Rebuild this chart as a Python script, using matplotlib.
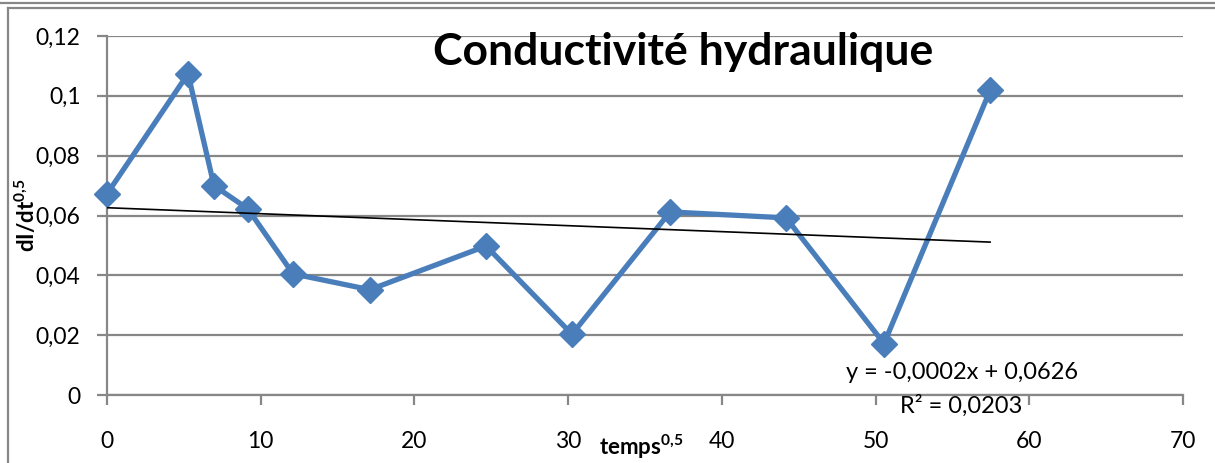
import numpy as np
import matplotlib.pyplot as plt
from matplotlib.lines import Line2D
from matplotlib.ticker import FuncFormatter, MultipleLocator

plt.rcParams['font.family'] = ['Lato', 'DejaVu Sans']
plt.rcParams['mathtext.fontset'] = 'custom'
plt.rcParams['mathtext.rm'] = 'Lato'
plt.rcParams['mathtext.bf'] = 'Lato:bold'

temps = [0, 5.27, 6.96, 9.17, 12.1, 17.1, 24.66, 30.25, 36.63, 44.18, 50.55, 57.45]
conductivite = [0.0672, 0.1074, 0.0700, 0.0622, 0.0405, 0.0352, 0.0498, 0.0203,
                0.0612, 0.0592, 0.0172, 0.1018]
pente = -0.0002
ordonnee = 0.0626
r2 = 0.0203

gris = '#878787'
bleu = '#4a7ebb'

fig = plt.figure(figsize=(12.15, 4.63), dpi=100)
ax = fig.add_axes([107 / 1215, 1 - 395 / 463, 1076 / 1215, 359 / 463])

ax.plot(temps, conductivite, color=bleu, lw=3.8, marker='D', ms=13,
        mfc=bleu, mec=bleu, zorder=3, clip_on=False)

# droite de tendance linéaire
xt = np.array([temps[0], temps[-1]])
ax.plot(xt, pente * xt + ordonnee, color='black', lw=1.2, zorder=4)

ax.set_xlim(0, 70)
ax.set_ylim(0, 0.12)
ax.xaxis.set_major_locator(MultipleLocator(10))
ax.yaxis.set_major_locator(MultipleLocator(0.02))
virgule = FuncFormatter(lambda v, p: f'{round(v, 4):g}'.replace('.', ','))
ax.xaxis.set_major_formatter(virgule)
ax.yaxis.set_major_formatter(virgule)

ax.grid(axis='y', color=gris, lw=1.6)
ax.set_axisbelow(True)
for s in ['top', 'right']:
    ax.spines[s].set_visible(False)
for s in ['left', 'bottom']:
    ax.spines[s].set_color(gris)
    ax.spines[s].set_linewidth(1.6)
ax.tick_params(axis='both', colors=gris, width=1.6, length=7, labelsize=16.5,
               labelcolor='black')
ax.tick_params(axis='x', pad=19)
ax.tick_params(axis='y', pad=12)

ax.text(0.535, 0.955, 'Conductivité hydraulique', transform=ax.transAxes,
        ha='center', va='center', fontsize=32, fontweight='bold')
ax.set_ylabel(r'dI/dt$^{\mathbf{0{,}5}}$', fontsize=16, fontweight='bold')
ax.yaxis.set_label_coords(-0.063, 0.5)
ax.set_xlabel(r'temps$^{\mathbf{0{,}5}}$', fontsize=16, fontweight='bold')
ax.xaxis.set_label_coords(0.496, -0.105)

eq = f'y = {pente:.4f}x + {ordonnee:.4f}'.replace('.', ',')
ax.text(55.6, 0.0075, eq, fontsize=17, ha='center', va='center')
ax.text(55.6, -0.0035, f'R² = {r2:.4f}'.replace('.', ','), fontsize=17,
        ha='center', va='center')

# cadre de la zone graphique
W, H = 1215, 463
fig.add_artist(Line2D([0, 1], [1 - 3 / H] * 2, color=gris, lw=1.6))
fig.add_artist(Line2D([8 / W, 1], [1 - 8 / H] * 2, color=gris, lw=1.6))
fig.add_artist(Line2D([8 / W] * 2, [0, 1 - 8 / H], color=gris, lw=1.6))

fig.savefig('out.png', dpi=100)
